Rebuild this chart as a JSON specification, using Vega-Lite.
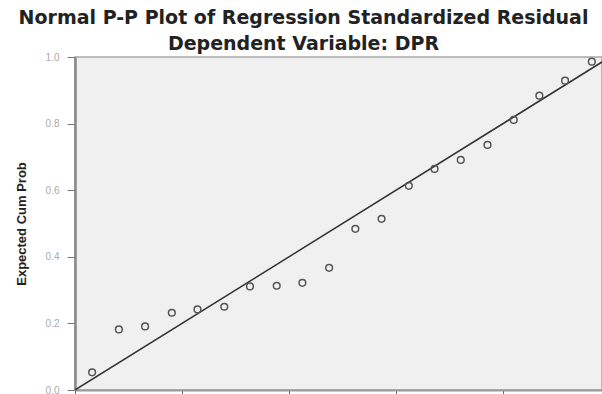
{
  "$schema": "https://vega.github.io/schema/vega-lite/v6.json",
  "width": 527,
  "height": 333,
  "autosize": {"type": "none"},
  "padding": {"left": 75, "top": 57, "right": 0, "bottom": 4},
  "background": "white",
  "title": {
    "text": "Normal P-P Plot of Regression Standardized Residual",
    "subtitle": "Dependent Variable: DPR",
    "font": "DejaVu Sans",
    "fontSize": 19,
    "fontWeight": "bold",
    "subtitleFont": "DejaVu Sans",
    "subtitleFontSize": 19,
    "subtitleFontWeight": "bold",
    "color": "#222222",
    "subtitleColor": "#222222",
    "anchor": "middle",
    "dx": -35,
    "offset": -2,
    "subtitlePadding": 7
  },
  "config": {
    "view": {"fill": "#f0f0f0", "stroke": "#a8a8a8", "strokeWidth": 1.5},
    "axis": {"grid": false}
  },
  "layer": [
    {
      "data": {"values": [{"x": 0, "y": 0}, {"x": 1, "y": 1}]},
      "mark": {"type": "line", "color": "#333333", "strokeWidth": 1.5, "clip": true},
      "encoding": {
        "x": {"field": "x", "type": "quantitative", "scale": {"domain": [0, 0.985], "nice": false, "zero": false},
          "axis": {"values": [0, 0.2, 0.4, 0.6, 0.8], "format": ".1f", "title": "Observed Cum Prob", "domainColor": "#999999", "domainWidth": 2, "tickColor": "#666666", "tickSize": 5, "labelColor": "#aaaaaa", "labelFontSize": 10}},
        "y": {"field": "y", "type": "quantitative", "scale": {"domain": [0, 1], "nice": false},
          "axis": {"values": [0, 0.2, 0.4, 0.6, 0.8, 1.0], "format": ".1f", "title": "Expected Cum Prob", "titleFont": "Liberation Sans", "titleFontWeight": "bold", "titleFontSize": 13, "titleColor": "#222222", "titlePadding": 17, "domainColor": "#888888", "domainWidth": 2.5, "tickColor": "#777777", "tickSize": 8, "labelPadding": 8, "labelColor": "#aaaaaa", "labelFontSize": 10}}
      }
    },
    {
      "data": {"values": [
        {"x": 0.032, "y": 0.053},
        {"x": 0.082, "y": 0.182},
        {"x": 0.131, "y": 0.191},
        {"x": 0.181, "y": 0.232},
        {"x": 0.229, "y": 0.242},
        {"x": 0.279, "y": 0.250},
        {"x": 0.327, "y": 0.311},
        {"x": 0.377, "y": 0.313},
        {"x": 0.425, "y": 0.322},
        {"x": 0.475, "y": 0.367},
        {"x": 0.524, "y": 0.484},
        {"x": 0.573, "y": 0.514},
        {"x": 0.624, "y": 0.613},
        {"x": 0.672, "y": 0.664},
        {"x": 0.721, "y": 0.691},
        {"x": 0.771, "y": 0.736},
        {"x": 0.820, "y": 0.811},
        {"x": 0.868, "y": 0.884},
        {"x": 0.916, "y": 0.929},
        {"x": 0.966, "y": 0.986}
      ]},
      "mark": {"type": "point", "shape": "circle", "filled": false, "color": "#555555", "size": 45, "strokeWidth": 1.5, "opacity": 1},
      "encoding": {
        "x": {"field": "x", "type": "quantitative"},
        "y": {"field": "y", "type": "quantitative"}
      }
    }
  ]
}
